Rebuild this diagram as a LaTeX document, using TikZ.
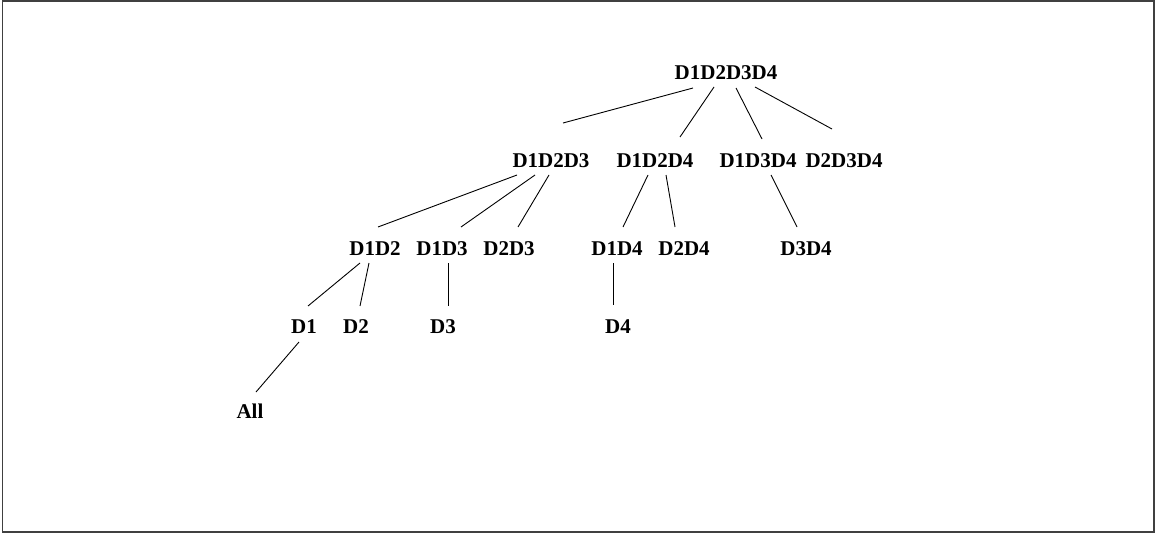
\documentclass[tikz,border=0pt]{standalone}
\usepackage{fontspec}
\setmainfont{Liberation Serif}
\begin{document}
\begin{tikzpicture}[x=1pt,y=-1pt,
  lbl/.style={anchor=base,inner sep=0pt,font=\fontsize{21}{24}\selectfont\bfseries},
  edge/.style={draw=black,line width=0.9pt}]
\useasboundingbox (0,0) rectangle (1155,533);
\draw[line width=1.5pt,draw=black!75] (2.5,0.75) rectangle (1153.8,532.2);
% nodes
\node[lbl] (top) at (726,79.5) {D1D2D3D4};
\node[lbl] (a123) at (551,167) {D1D2D3};
\node[lbl] (a124) at (655,167) {D1D2D4};
\node[lbl] (a134) at (758,167) {D1D3D4};
\node[lbl] (a234) at (844,167) {D2D3D4};
\node[lbl] (b12) at (375,255) {D1D2};
\node[lbl] (b13) at (442,255) {D1D3};
\node[lbl] (b23) at (509,255) {D2D3};
\node[lbl] (b14) at (617,255) {D1D4};
\node[lbl] (b24) at (684,255) {D2D4};
\node[lbl] (b34) at (806,255) {D3D4};
\node[lbl] (c1) at (304,333) {D1};
\node[lbl] (c2) at (356,333) {D2};
\node[lbl] (c3) at (443,333) {D3};
\node[lbl] (c4) at (618,333) {D4};
\node[lbl] (all) at (250,418) {All};
% connector ends
\coordinate (t1) at (693,88);  \coordinate (e1) at (563,123);
\coordinate (t2) at (714,87);  \coordinate (e2) at (680,137);
\coordinate (t3) at (736,88);  \coordinate (e3) at (762,139);
\coordinate (t4) at (755,87);  \coordinate (e4) at (832,129);
\coordinate (s1) at (517,175); \coordinate (f1) at (378,227);
\coordinate (s2) at (535,175); \coordinate (f2) at (461,227);
\coordinate (s3) at (549,175); \coordinate (f3) at (518,227);
\coordinate (u1) at (648,175); \coordinate (g1) at (623,227);
\coordinate (u2) at (666,175); \coordinate (g2) at (675,227);
\coordinate (v1) at (771,175); \coordinate (h1) at (797,227);
\coordinate (w1) at (360,263); \coordinate (k1) at (308,306);
\coordinate (w2) at (369,263); \coordinate (k2) at (360,306);
\coordinate (x1) at (448,263); \coordinate (m1) at (448,306);
\coordinate (y1) at (613,263); \coordinate (n1) at (613,305);
\coordinate (z1) at (299,342); \coordinate (p1) at (256,392);
\draw[edge] (t1) -- (e1);
\draw[edge] (t2) -- (e2);
\draw[edge] (t3) -- (e3);
\draw[edge] (t4) -- (e4);
\draw[edge] (s1) -- (f1);
\draw[edge] (s2) -- (f2);
\draw[edge] (s3) -- (f3);
\draw[edge] (u1) -- (g1);
\draw[edge] (u2) -- (g2);
\draw[edge] (v1) -- (h1);
\draw[edge] (w1) -- (k1);
\draw[edge] (w2) -- (k2);
\draw[edge] (x1) -- (m1);
\draw[edge] (y1) -- (n1);
\draw[edge] (z1) -- (p1);
\end{tikzpicture}
\end{document}
